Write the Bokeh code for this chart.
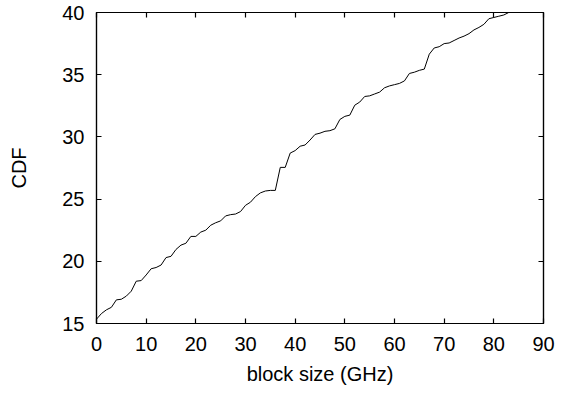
from bokeh.plotting import figure
from bokeh.models import LinearAxis, Range1d, FixedTicker
from bokeh.embed import file_html
from bokeh.resources import INLINE

# data
block_size = list(range(0, 84))
cdf = [15.35, 15.8, 16.1, 16.3, 16.9, 16.95, 17.2, 17.6, 18.4, 18.45,
       18.9, 19.4, 19.5, 19.7, 20.3, 20.4, 20.95, 21.3, 21.45, 22.0,
       22.0, 22.35, 22.5, 22.9, 23.1, 23.25, 23.65, 23.75, 23.8, 24.0,
       24.5, 24.75, 25.2, 25.5, 25.65, 25.7, 25.7, 27.55, 27.55, 28.7,
       28.9, 29.25, 29.35, 29.75, 30.2, 30.3, 30.45, 30.5, 30.65, 31.4,
       31.65, 31.75, 32.55, 32.8, 33.25, 33.3, 33.45, 33.6, 33.95, 34.1,
       34.2, 34.3, 34.5, 35.1, 35.2, 35.35, 35.45, 36.65, 37.15, 37.25,
       37.5, 37.55, 37.75, 37.95, 38.1, 38.3, 38.6, 38.8, 39.05, 39.5,
       39.6, 39.7, 39.8, 40.0]
x_ticks = [0, 10, 20, 30, 40, 50, 60, 70, 80, 90]
y_ticks = [15, 20, 25, 30, 35, 40]

FONT = "Liberation Sans"
FS = "20px"

p = figure(width=562, height=387, output_backend="svg", toolbar_location=None,
           x_range=Range1d(0, 90), y_range=Range1d(15, 40),
           x_axis_label="block size (GHz)", y_axis_label="CDF")
p.min_border_left = 96
p.min_border_right = 19
p.min_border_top = 12
p.min_border_bottom = 60
p.background_fill_color = "white"
p.border_fill_color = "white"
p.outline_line_color = "black"
p.outline_line_width = 1.2
p.xgrid.visible = False
p.ygrid.visible = False

p.line(block_size, cdf, line_color="black", line_width=1)

def style(ax, ticks, show_labels=True):
    ax.ticker = FixedTicker(ticks=ticks)
    ax.major_tick_in = 5
    ax.major_tick_out = 0
    ax.minor_tick_in = 0
    ax.minor_tick_out = 0
    ax.axis_line_color = "black"
    ax.axis_line_width = 1.2
    ax.major_tick_line_color = "black"
    ax.major_tick_line_width = 1.2
    ax.major_label_text_font = FONT
    ax.major_label_text_font_size = FS
    ax.major_label_text_color = "black"
    ax.axis_label_text_font = FONT
    ax.axis_label_text_font_size = FS
    ax.axis_label_text_font_style = "normal"
    ax.axis_label_text_color = "black"
    if not show_labels:
        ax.major_label_overrides = {t: "" for t in ticks}
        ax.major_label_standoff = 0

style(p.xaxis[0], x_ticks)
style(p.yaxis[0], y_ticks)
p.xaxis[0].major_label_standoff = 13
p.xaxis[0].axis_label_standoff = 9
p.yaxis[0].major_label_standoff = 12
p.yaxis[0].axis_label_standoff = 29

top = LinearAxis()
style(top, x_ticks, show_labels=False)
p.add_layout(top, "above")
right = LinearAxis()
style(right, y_ticks, show_labels=False)
p.add_layout(right, "right")

open("out.html", "w").write(file_html(p, INLINE))
